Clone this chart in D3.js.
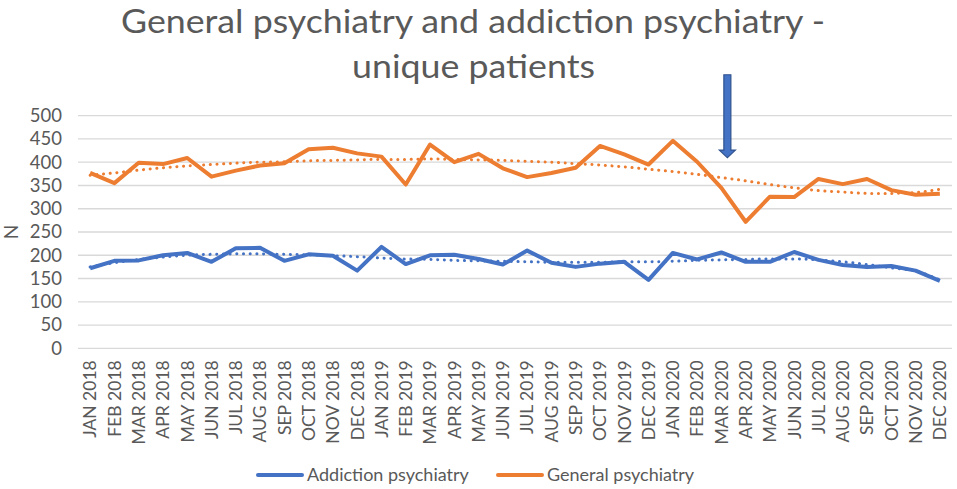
<!DOCTYPE html>
<html lang="en" style="width:100%;height:100%;margin:0;padding:0;">
<head>
    <meta charset="UTF-8">
    <title>General psychiatry and addiction psychiatry - unique patients</title>
    <script type='text/javascript' src="https://cdn.jsdelivr.net/npm/d3@7/dist/d3.min.js"></script>
    <style>
        body { margin: 0; padding: 0; background: #fff; }
        text { font-family: Lato, "Open Sans", sans-serif; fill: #595959; }
    </style>
</head>
<body>
<svg id="chart" width="957" height="489"></svg>
<script>
    // Months on the x axis
    let months = [
        "JAN 2018", "FEB 2018", "MAR 2018", "APR 2018", "MAY 2018", "JUN 2018",
        "JUL 2018", "AUG 2018", "SEP 2018", "OCT 2018", "NOV 2018", "DEC 2018",
        "JAN 2019", "FEB 2019", "MAR 2019", "APR 2019", "MAY 2019", "JUN 2019",
        "JUL 2019", "AUG 2019", "SEP 2019", "OCT 2019", "NOV 2019", "DEC 2019",
        "JAN 2020", "FEB 2020", "MAR 2020", "APR 2020", "MAY 2020", "JUN 2020",
        "JUL 2020", "AUG 2020", "SEP 2020", "OCT 2020", "NOV 2020", "DEC 2020"
    ];

    // Unique patients per month
    let addiction = [172, 188, 189, 200, 205, 186, 215, 216, 188, 202, 199, 167,
                     218, 181, 200, 201, 192, 180, 210, 184, 175, 182, 186, 147,
                     205, 191, 206, 186, 186, 207, 190, 179, 175, 177, 167, 145];
    let general = [377, 355, 399, 396, 409, 369, 382, 393, 398, 428, 431, 419,
                   412, 352, 438, 400, 418, 387, 368, 377, 388, 435, 417, 395,
                   446, 401, 345, 272, 326, 325, 364, 353, 364, 340, 330, 332];

    // Dotted trend lines
    let addictionTrend = [175, 184, 191, 196, 200, 202, 203, 203, 202, 201, 199, 197,
                          194, 192, 191, 189, 188, 187, 186, 185, 185, 185, 186, 186,
                          187, 189, 190, 191, 192, 192, 190, 186, 180, 173, 166, 147];
    let generalTrend = [372, 377, 383, 388, 392, 395, 398, 400, 401, 403, 404, 405,
                        406, 406, 407, 406, 405, 404, 402, 400, 397, 394, 390, 385,
                        380, 374, 367, 360, 352, 345, 339, 336, 333, 333, 335, 342];

    let yTicks = [0, 50, 100, 150, 200, 250, 300, 350, 400, 450, 500];
    let seriesNames = ["Addiction psychiatry", "General psychiatry"];
    let arrowMonth = "MAR 2020";

    let blue = "#4472C4";
    let orange = "#ED7D31";

    let svg = d3.select("#chart");

    let x = d3.scaleBand()
        .domain(months)
        .range([78, 952])
        .padding(0);

    let y = d3.scaleLinear()
        .domain([0, 500])
        .range([348.3, 115.7]);

    let cx = function(i) { return x(months[i]) + x.bandwidth() / 2; };

    // Title
    let title = svg.append("g").attr("class", "title");
    title.append("text")
        .attr("x", 473).attr("y", 33)
        .attr("text-anchor", "middle")
        .attr("textLength", 704).attr("lengthAdjust", "spacingAndGlyphs")
        .style("font-size", "32px")
        .text("General psychiatry and addiction psychiatry -");
    title.append("text")
        .attr("x", 473.5).attr("y", 78)
        .attr("text-anchor", "middle")
        .attr("textLength", 243).attr("lengthAdjust", "spacingAndGlyphs")
        .style("font-size", "32px")
        .text("unique patients");

    // Gridlines
    svg.append("g")
        .attr("class", "grid")
        .selectAll("line")
        .data(yTicks)
        .enter().append("line")
        .attr("x1", 78).attr("x2", 952)
        .attr("y1", function(d) { return y(d); })
        .attr("y2", function(d) { return y(d); })
        .style("stroke", "#d9d9d9")
        .style("stroke-width", 1.3);

    // Y axis labels
    let yAxis = svg.append("g")
        .attr("transform", "translate(65,0)")
        .call(d3.axisLeft(y).tickValues(yTicks).tickSize(0).tickPadding(3));
    yAxis.select(".domain").remove();
    yAxis.selectAll("text")
        .style("font-family", "Lato, sans-serif")
        .style("font-size", "18.5px")
        .style("fill", "#595959");

    svg.append("text")
        .attr("transform", "translate(11,232) rotate(-90)")
        .attr("text-anchor", "middle")
        .attr("dy", "0.35em")
        .style("font-size", "19px")
        .text("N");

    // X axis labels
    let xAxis = svg.append("g")
        .attr("transform", "translate(0,348.3)")
        .call(d3.axisBottom(x).tickSize(0).tickPadding(0));
    xAxis.select(".domain").remove();
    xAxis.selectAll("text")
        .attr("transform", "rotate(-90)")
        .attr("text-anchor", "end")
        .attr("x", -12)
        .attr("y", 0)
        .attr("dy", "0.36em")
        .style("font-family", "Lato, sans-serif")
        .style("font-size", "17.5px")
        .style("fill", "#595959");

    // Series lines
    let line = d3.line()
        .x(function(d, i) { return cx(i); })
        .y(function(d) { return y(d); });

    let trend = d3.line()
        .x(function(d, i) { return cx(i); })
        .y(function(d) { return y(d); })
        .curve(d3.curveMonotoneX);

    let series = [
        { values: addiction, trend: addictionTrend, color: blue },
        { values: general, trend: generalTrend, color: orange }
    ];

    svg.append("g").attr("class", "series")
        .selectAll("path")
        .data(series)
        .enter().append("path")
        .attr("d", function(s) { return line(s.values); })
        .style("fill", "none")
        .style("stroke", function(s) { return s.color; })
        .style("stroke-width", 4)
        .style("stroke-linejoin", "round");

    svg.append("g").attr("class", "trends")
        .selectAll("path")
        .data(series)
        .enter().append("path")
        .attr("d", function(s) { return trend(s.trend); })
        .style("fill", "none")
        .style("stroke", function(s) { return s.color; })
        .style("stroke-width", 3)
        .style("stroke-linecap", "round")
        .style("stroke-dasharray", "0.1 6.6");

    // Arrow marking March 2020
    let ax = x(arrowMonth) + x.bandwidth() / 2 + 6;
    let arrowTop = y(588), arrowTip = y(410), headTop = y(426);
    svg.append("path")
        .attr("d", "M" + (ax - 3.5) + "," + arrowTop +
                   " L" + (ax + 3.5) + "," + arrowTop +
                   " L" + (ax + 3.5) + "," + headTop +
                   " L" + (ax + 8) + "," + headTop +
                   " L" + ax + "," + arrowTip +
                   " L" + (ax - 8) + "," + headTop +
                   " L" + (ax - 3.5) + "," + headTop + " Z")
        .style("fill", blue)
        .style("stroke", "#2F528F")
        .style("stroke-width", 1.2);

    // Legend
    let legend = svg.append("g").attr("class", "legend");
    let legendX = [258, 498];
    seriesNames.forEach(function(name, i) {
        let g = legend.append("g").attr("transform", "translate(" + legendX[i] + ",475)");
        g.append("line")
            .attr("x1", 0).attr("x2", 44)
            .style("stroke", series[i].color)
            .style("stroke-width", 4)
            .style("stroke-linecap", "round");
        g.append("text")
            .attr("x", 49).attr("dy", "0.35em")
            .style("font-size", "18px")
            .text(name);
    });
</script>
</body>
</html>
